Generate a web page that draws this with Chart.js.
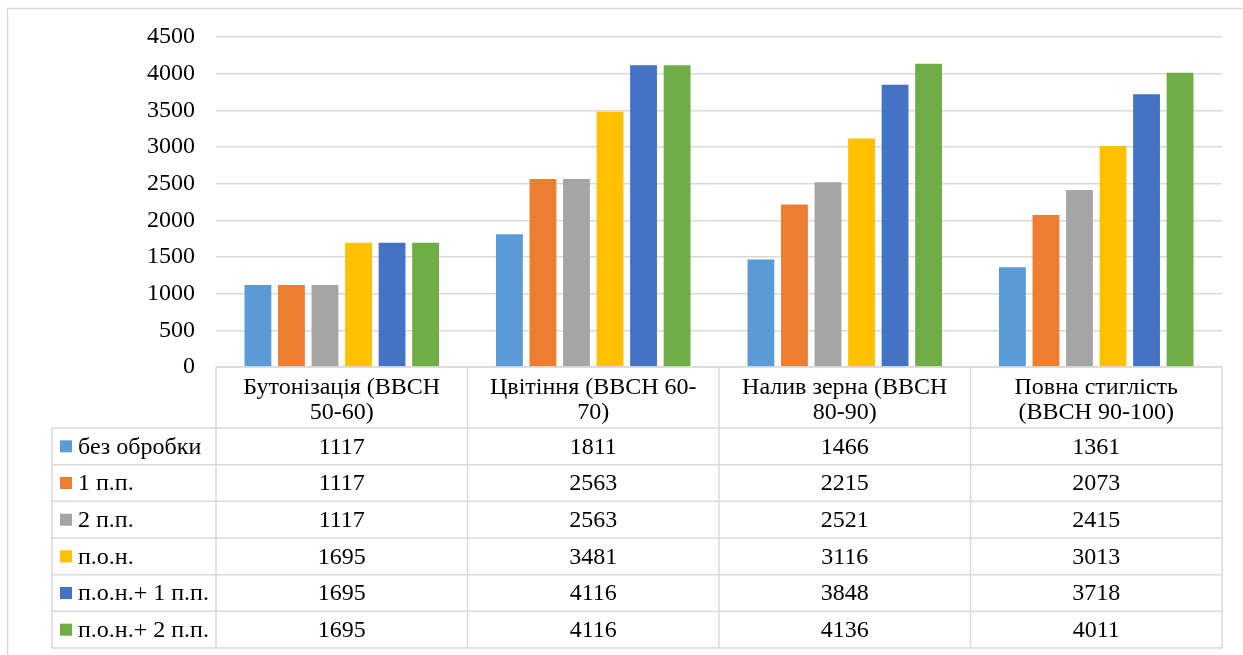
<!DOCTYPE html>
<html>
<head>
<meta charset="utf-8">
<script src="https://cdn.jsdelivr.net/npm/chart.js@4.4.1/dist/chart.umd.min.js"></script>
<style>
  html, body { margin: 0; padding: 0; background: #fff; }
  #wrap { width: 1243px; height: 655px; position: relative; }
</style>
</head>
<body>
<div id="wrap"><canvas id="c" width="1243" height="655"></canvas></div>
<script>
const categories = [
  ["Бутонізація (BBCH", "50-60)"],
  ["Цвітіння (BBCH 60-", "70)"],
  ["Налив зерна (BBCH", "80-90)"],
  ["Повна стиглість", "(BBCH 90-100)"]
];
const seriesNames = ["без обробки", "1 п.п.", "2 п.п.", "п.о.н.", "п.о.н.+ 1 п.п.", "п.о.н.+ 2 п.п."];
const bezObrobky = [1117, 1811, 1466, 1361];
const pp1 = [1117, 2563, 2215, 2073];
const pp2 = [1117, 2563, 2521, 2415];
const pon = [1695, 3481, 3116, 3013];
const ponPp1 = [1695, 4116, 3848, 3718];
const ponPp2 = [1695, 4116, 4136, 4011];
const yTicks = [0, 500, 1000, 1500, 2000, 2500, 3000, 3500, 4000, 4500];
const colors = ["#5B9BD5", "#ED7D31", "#A5A5A5", "#FFC000", "#4472C4", "#70AD47"];

const seriesValues = [bezObrobky, pp1, pp2, pon, ponPp1, ponPp2];
const FONT = "Liberation Serif, DejaVu Serif, serif";
const FS = 24;
const GRID = "#d9d9d9";
const HEADER_H = 61;
const ROWS_BOTTOM = 648;
const TABLE_LEFT = 52;

const tablePlugin = {
  id: 'dataTable',
  beforeDraw(chart) {
    const ctx = chart.ctx;
    ctx.save();
    ctx.strokeStyle = GRID;
    ctx.lineWidth = 1.5;
    ctx.beginPath();
    ctx.moveTo(7.5, 655);
    ctx.lineTo(7.5, 8.5);
    ctx.lineTo(1243, 8.5);
    ctx.stroke();
    ctx.restore();
  },
  afterDraw(chart) {
    const ctx = chart.ctx;
    const x = chart.scales.x;
    const area = chart.chartArea;
    const left = area.left, right = area.right;
    const axisY = area.bottom;
    const headerBottom = axisY + HEADER_H;
    const n = seriesValues.length;
    const rowH = (ROWS_BOTTOM - headerBottom) / n;
    const colW = (right - left) / categories.length;
    ctx.save();
    ctx.strokeStyle = GRID;
    ctx.lineWidth = 1.5;
    ctx.beginPath();
    ctx.moveTo(left, axisY); ctx.lineTo(right, axisY);
    for (let i = 0; i <= n; i++) {
      const y = headerBottom + i * rowH;
      ctx.moveTo(TABLE_LEFT, y); ctx.lineTo(right, y);
    }
    ctx.moveTo(TABLE_LEFT, headerBottom); ctx.lineTo(TABLE_LEFT, ROWS_BOTTOM);
    for (let j = 0; j <= categories.length; j++) {
      const xx = left + j * colW;
      ctx.moveTo(xx, axisY); ctx.lineTo(xx, ROWS_BOTTOM);
    }
    ctx.stroke();

    ctx.font = FS + "px " + FONT;
    ctx.textBaseline = 'middle';
    for (let i = 0; i < n; i++) {
      const cy = headerBottom + i * rowH + rowH / 2;
      ctx.fillStyle = colors[i];
      ctx.fillRect(60, cy - 6, 12, 12);
      ctx.fillStyle = '#000';
      ctx.textAlign = 'left';
      ctx.fillText(seriesNames[i], 78, cy + 1);
      ctx.textAlign = 'center';
      for (let j = 0; j < categories.length; j++) {
        ctx.fillText(String(seriesValues[i][j]), x.getPixelForValue(j), cy + 1);
      }
    }
    ctx.restore();
  }
};

new Chart(document.getElementById('c'), {
  type: 'bar',
  data: {
    labels: categories,
    datasets: seriesNames.map((name, i) => ({
      label: name,
      data: seriesValues[i],
      backgroundColor: colors[i],
      borderWidth: 0,
      categoryPercentage: 0.8,
      barPercentage: 0.8
    }))
  },
  options: {
    responsive: false,
    animation: false,
    devicePixelRatio: 1,
    layout: { padding: { top: 37, right: 21, bottom: 655 - 428, left: 0 } },
    plugins: { legend: { display: false }, tooltip: { enabled: false } },
    scales: {
      x: {
        grid: { display: false },
        border: { display: false },
        ticks: {
          color: '#000',
          font: { family: FONT, size: FS, lineHeight: 1.04 },
          padding: 0,
          maxRotation: 0,
          autoSkip: false
        },
        afterFit(scale) { scale.height = HEADER_H; }
      },
      y: {
        min: 0,
        max: 4500,
        afterBuildTicks(scale) { scale.ticks = yTicks.map(v => ({ value: v })); },
        grid: { color: GRID, lineWidth: 1.5, drawTicks: false },
        border: { display: false },
        ticks: {
          color: '#000',
          font: { family: FONT, size: FS },
          padding: 21,
          callback: (v) => String(v)
        },
        afterFit(scale) { scale.width = 216; }
      }
    }
  },
  plugins: [tablePlugin]
});
</script>
</body>
</html>
